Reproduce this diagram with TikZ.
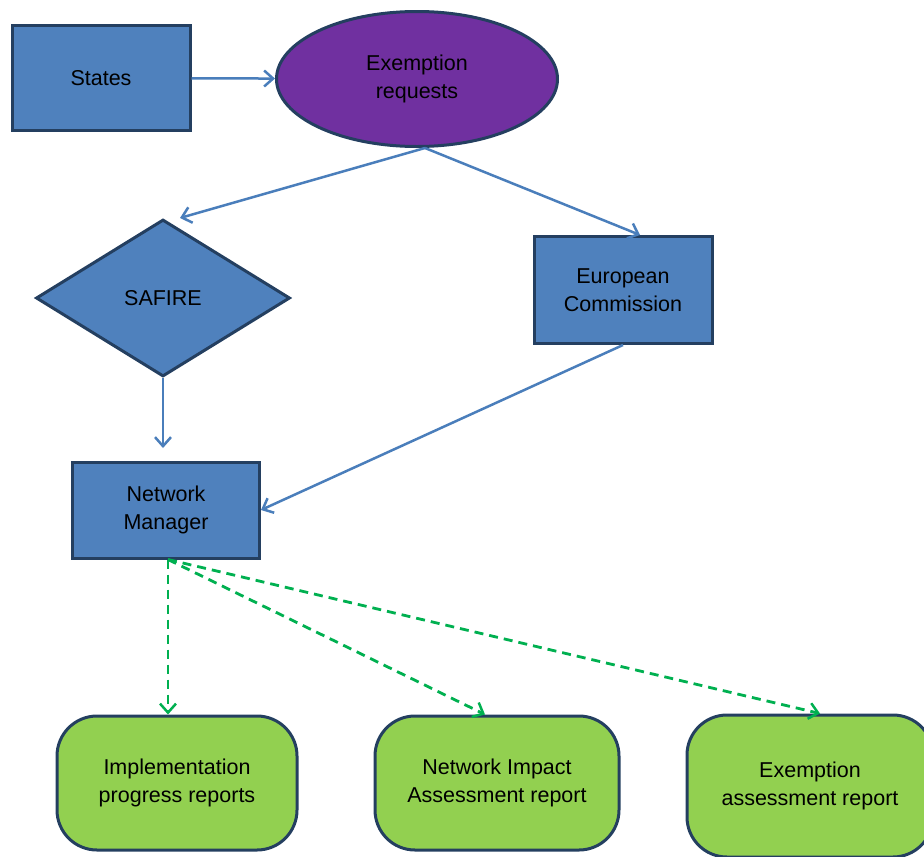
\documentclass[tikz,border=0pt]{standalone}
\usepackage{fontspec}
\setmainfont{Liberation Sans}
\usepackage{tikz}
\usetikzlibrary{shapes.geometric,arrows.meta}

\definecolor{boxblue}{HTML}{4F81BD}
\definecolor{edgeblue}{HTML}{243F60}
\definecolor{reqpurple}{HTML}{7030A0}
\definecolor{repgreen}{HTML}{92D050}
\definecolor{dashgreen}{HTML}{00B050}
\definecolor{linkblue}{HTML}{4A7EBB}

\begin{document}
\begin{tikzpicture}
	[x=1pt,y=-1pt,
	every node/.style={font=\fontsize{21.5}{28}\selectfont, align=center, line width=3pt, draw=edgeblue, inner sep=0pt},
	actor/.style={rectangle, fill=boxblue, minimum width=178pt, minimum height=105pt},
	request/.style={ellipse, fill=reqpurple, minimum width=281pt, minimum height=135pt},
	check/.style={diamond, fill=boxblue, minimum width=254pt, minimum height=157pt, aspect=1.62},
	report/.style={rectangle, rounded corners=40pt, fill=repgreen, minimum width=240pt, minimum height=134pt},
	flow/.style={draw=linkblue, line width=2.5pt, -{Straight Barb[length=9pt,width=16pt,line width=2.5pt]}},
	output/.style={draw=dashgreen, line width=2.8pt, dash pattern=on 9pt off 6pt, -{Straight Barb[length=9pt,width=16pt,line width=2.5pt]}}]
	\useasboundingbox (0,0) rectangle (924,857);

	% who asks
	\node[actor] (states) at (101,78) {States};
	\node[request] (req) at (417,79) {Exemption\\requests};

	% who looks at it
	\node[check] (safire) at (163,298) {SAFIRE};
	\node[actor, minimum height=107pt] (ec) at (623,290) {European\\Commission};
	\node[actor, minimum width=187pt, minimum height=96pt] (nm) at (166,510) {Network\\Manager};

	% what comes out
	\node[report] (impl) at (177,783) {Implementation\\progress reports};
	\node[report, minimum width=244pt] (nia) at (497,783) {Network Impact\\Assessment report};
	\node[report, minimum width=246pt, minimum height=142pt] (ear) at (810,786) {Exemption\\assessment report};

	\draw[flow] (states) -- (req);
	\draw[flow] ([xshift=8pt]req.south) -- ([xshift=17pt]safire.north);
	\draw[flow] ([xshift=8pt]req.south) -- ([xshift=17pt]ec.north);
	\draw[flow] (safire.south) -- ++(0,70);
	\draw[flow] (ec.south) -- (nm.east);

	\draw[output] ([xshift=2pt]nm.south) -- ([xshift=2pt]nm.south |- impl.north);
	\draw[output] ([xshift=2pt]nm.south) -- ([xshift=-12pt]nia.north);
	\draw[output] ([xshift=2pt]nm.south) -- ([xshift=10pt]ear.north);
\end{tikzpicture}
\end{document}
